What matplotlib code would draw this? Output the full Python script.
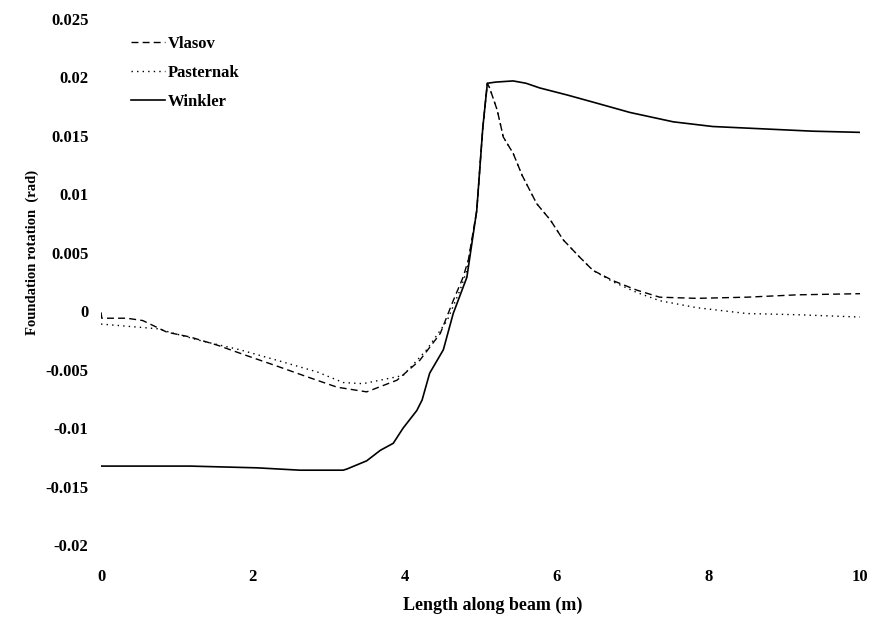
import matplotlib
matplotlib.use('Agg')
from matplotlib import pyplot as plt

plt.rcParams['font.family'] = ['Liberation Serif', 'DejaVu Serif']
plt.rcParams['font.weight'] = 'bold'

# 读图得到的数据
winkler_x = [0, 1.17, 2.06, 2.62, 3.19, 3.24, 3.50, 3.68, 3.85, 3.98, 4.16, 4.23,
             4.33, 4.51, 4.64, 4.82, 4.95, 5.03, 5.09, 5.20, 5.43, 5.60, 5.78, 6.14,
             6.53, 6.97, 7.54, 8.06, 8.72, 9.38, 10.0]
winkler_y = [-0.01325, -0.01325, -0.0134, -0.0136, -0.0136, -0.0135, -0.0128,
             -0.0119, -0.0113, -0.0100, -0.0085, -0.0076, -0.0053, -0.0033,
             -0.0002, 0.0029, 0.0086, 0.0157, 0.0195, 0.0196, 0.0197, 0.0195, 0.0191,
             0.0185, 0.0178, 0.0170, 0.0162, 0.0158, 0.0156, 0.0154, 0.0153]

vlasov_x = [0, 0.01, 0.34, 0.55, 0.87, 1.17, 1.53, 1.92, 2.32, 2.71, 3.11, 3.50,
            3.90, 4.20, 4.47, 4.64, 4.77, 4.84, 4.95, 5.03, 5.09, 5.12, 5.22,
            5.30, 5.43, 5.55, 5.74, 5.92, 6.09, 6.31, 6.48, 6.75, 7.06, 7.36,
            7.85, 8.51, 9.17, 10.0]
vlasov_y = [-0.0001, -0.0006, -0.0006, -0.0008, -0.0018, -0.0022, -0.0029,
            -0.0038, -0.0047, -0.0056, -0.0065, -0.0069, -0.0059, -0.0042,
            -0.0019, 0.0009, 0.0029, 0.0044, 0.0086, 0.0157, 0.0195, 0.0191,
            0.0172, 0.0149, 0.0135, 0.0116, 0.0092, 0.0078, 0.0061, 0.0046,
            0.0035, 0.0026, 0.0018, 0.0012, 0.0011, 0.0012, 0.0014, 0.0015]

pasternak_x = [0, 0.74, 1.30, 1.83, 2.32, 2.85, 3.19, 3.45, 3.98, 4.29, 4.56,
               4.73, 4.82, 4.95, 5.03, 5.09, 5.12, 5.22, 5.30, 5.43, 5.55, 5.74,
               5.92, 6.09, 6.31, 6.48, 6.75, 7.06, 7.36, 7.85, 8.51, 9.17, 10.0]
pasternak_y = [-0.0011, -0.0015, -0.0025, -0.0033, -0.0042, -0.0052, -0.0061,
               -0.0062, -0.0055, -0.0033, -0.0008, 0.0018, 0.0035, 0.0086,
               0.0157, 0.0195, 0.0191, 0.0172, 0.0149, 0.0135, 0.0116, 0.0092,
               0.0078, 0.0061, 0.0046, 0.0035, 0.0025, 0.0016, 0.0009, 0.0003,
               -0.0002, -0.0003, -0.0005]

x_ticks = [0, 2, 4, 6, 8, 10]
y_ticks = [-0.02, -0.015, -0.01, -0.005, 0, 0.005, 0.01, 0.015, 0.02, 0.025]
y_labels = ['-0.02', '-0.015', '-0.01', '-0.005', '0', '0.005', '0.01', '0.015', '0.02', '0.025']

fig = plt.figure(figsize=(8.74, 6.22), dpi=100)
ax = fig.add_axes([0.1156, 0.1238, 0.8684, 0.8457])

ax.plot(vlasov_x, vlasov_y, color='black', lw=1.0, ls=(0, (5, 3)), label='Vlasov')
ax.plot(pasternak_x, pasternak_y, color='black', lw=1.0, ls=(0, (1, 3)), label='Pasternak')
ax.plot(winkler_x, winkler_y, color='black', lw=1.2, label='Winkler')

ax.set_xlim(0, 10)
ax.set_ylim(-0.02, 0.025)
ax.set_xticks(x_ticks)
ax.set_xticklabels([str(v) for v in x_ticks])
ax.set_yticks(y_ticks)
ax.set_yticklabels(y_labels)
ax.tick_params(length=0, labelsize=12)
ax.tick_params(axis='x', pad=17)
ax.tick_params(axis='y', pad=9)
for s in ax.spines.values():
    s.set_visible(False)

ax.set_xlabel('Length along beam (m)', fontsize=13, fontweight='bold')
ax.xaxis.set_label_coords(0.516, -0.098)
ax.set_ylabel('Foundation rotation  (rad)', fontsize=10.5, fontweight='bold')
ax.yaxis.set_label_coords(-0.082, 0.557)

ax.legend(loc='upper left', bbox_to_anchor=(0.02, 0.997), frameon=False,
          fontsize=12, handlelength=2.0, handletextpad=0.2, labelspacing=0.8)

plt.savefig('out.png')
